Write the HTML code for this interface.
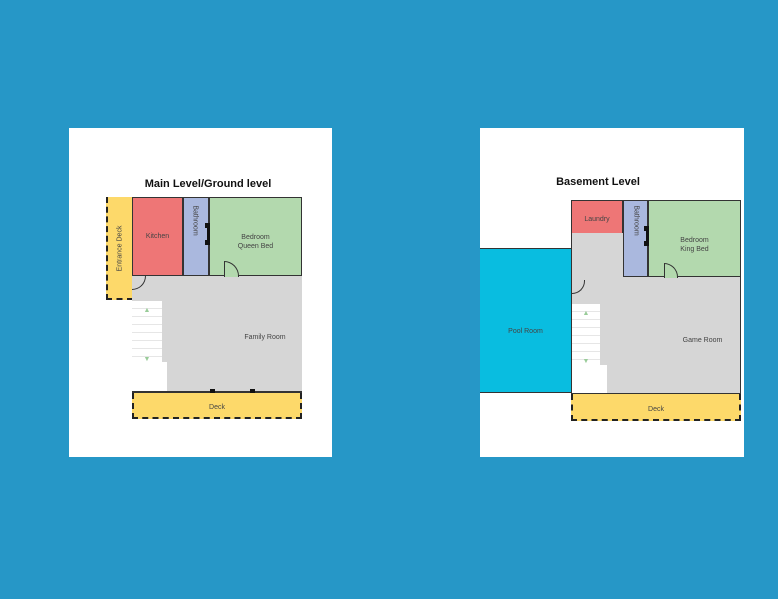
<!DOCTYPE html>
<html><head><style>
body{margin:0;width:778px;height:599px;background:#2697c7;position:relative;overflow:hidden;font-family:"Liberation Sans",sans-serif}
div{position:absolute;box-sizing:border-box}
.t{font-size:7px;color:#444;text-align:center;line-height:9px}
</style></head><body>
<div style="left:69px;top:128px;width:263px;height:329px;background:#fff"></div>
<div style="left:480px;top:128px;width:264px;height:329px;background:#fff"></div>

<!-- LEFT -->
<div style="left:69px;top:178px;width:278px;text-align:center;font-weight:bold;font-size:11px;color:#111">Main Level/Ground level</div>
<div style="left:106px;top:197px;width:27px;height:103px;background:#fdd96a;border-left:2px dashed #222;border-bottom:2px dashed #222"></div>
<div class="t" style="left:80px;top:244px;width:80px;transform:rotate(-90deg)">Entrance Deck</div>
<div style="left:132px;top:276px;width:170px;height:116px;background:#d6d6d6"></div>
<div style="left:132px;top:197px;width:51px;height:79px;background:#ee7676;border:1px solid #333"></div>
<div class="t" style="left:132px;top:232px;width:51px">Kitchen</div>
<div style="left:183px;top:197px;width:26px;height:79px;background:#aab8de;border:1px solid #333"></div>
<div class="t" style="left:170px;top:216px;width:50px;transform:rotate(90deg)">Bathroom</div>
<div style="left:209px;top:197px;width:93px;height:79px;background:#b3d9ae;border:1px solid #333"></div>
<div class="t" style="left:209px;top:233px;width:93px">Bedroom<br>Queen Bed</div>
<div style="left:207px;top:223px;width:3px;height:20px;background:#111"></div>
<div style="left:205px;top:223px;width:5px;height:5px;background:#111"></div>
<div style="left:205px;top:240px;width:5px;height:5px;background:#111"></div>
<div style="left:224px;top:261px;width:15px;height:16px;border:1px solid #333;border-radius:0 15px 0 0;border-bottom:none;background:#b3d9ae"></div>
<div style="left:132px;top:276px;width:14px;height:14px;border:1px solid #333;border-radius:0 0 14px 0;border-left:none;border-top:none"></div>
<div style="left:132px;top:301px;width:30px;height:91px;background:#fff;background-image:repeating-linear-gradient(#fff 0 7px,#e6e6e6 7px 8px)"></div>
<div style="left:132px;top:362px;width:35px;height:30px;background:#fff"></div>
<div class="t" style="left:132px;top:306px;width:30px;color:#9c9">▲</div>
<div class="t" style="left:132px;top:355px;width:30px;color:#9c9">▼</div>
<div class="t" style="left:200px;top:333px;width:130px">Family Room</div>
<div style="left:132px;top:391px;width:170px;height:2px;background:#333"></div>
<div style="left:210px;top:389px;width:5px;height:5px;background:#111"></div>
<div style="left:250px;top:389px;width:5px;height:5px;background:#111"></div>
<div style="left:132px;top:393px;width:170px;height:26px;background:#fdd96a;border:2px dashed #222;border-top:none"></div>
<div class="t" style="left:132px;top:403px;width:170px">Deck</div>

<!-- RIGHT -->
<div style="left:480px;top:176px;width:264px;text-align:center;font-weight:bold;font-size:11px;color:#111;padding-right:28px">Basement Level</div>
<div style="left:480px;top:248px;width:91px;height:145px;background:#09bde0;border-top:1px solid #333;border-bottom:1px solid #333"></div>
<div class="t" style="left:480px;top:327px;width:91px">Pool Room</div>
<div style="left:571px;top:200px;width:170px;height:194px;background:#d6d6d6;border:1px solid #333"></div>
<div style="left:571px;top:200px;width:52px;height:33px;background:#ee7676;border:1px solid #333;border-bottom:none"></div>
<div class="t" style="left:571px;top:215px;width:52px">Laundry</div>
<div style="left:623px;top:200px;width:25px;height:77px;background:#aab8de;border:1px solid #333"></div>
<div class="t" style="left:611px;top:216px;width:50px;transform:rotate(90deg)">Bathroom</div>
<div style="left:648px;top:200px;width:93px;height:77px;background:#b3d9ae;border:1px solid #333"></div>
<div class="t" style="left:648px;top:236px;width:93px">Bedroom<br>King Bed</div>
<div style="left:646px;top:226px;width:3px;height:19px;background:#111"></div>
<div style="left:644px;top:226px;width:5px;height:5px;background:#111"></div>
<div style="left:644px;top:241px;width:5px;height:5px;background:#111"></div>
<div style="left:664px;top:263px;width:14px;height:15px;border:1px solid #333;border-radius:0 14px 0 0;border-bottom:none;background:#b3d9ae"></div>
<div style="left:572px;top:280px;width:13px;height:14px;border:1px solid #333;border-radius:0 0 14px 0;border-left:none;border-top:none"></div>
<div style="left:572px;top:304px;width:28px;height:89px;background:#fff;background-image:repeating-linear-gradient(#fff 0 7px,#e6e6e6 7px 8px)"></div>
<div style="left:572px;top:365px;width:35px;height:28px;background:#fff"></div>
<div class="t" style="left:572px;top:309px;width:28px;color:#9c9">▲</div>
<div class="t" style="left:572px;top:357px;width:28px;color:#9c9">▼</div>
<div class="t" style="left:640px;top:336px;width:125px">Game Room</div>
<div style="left:571px;top:394px;width:170px;height:27px;background:#fdd96a;border:2px dashed #222;border-top:none"></div>
<div class="t" style="left:571px;top:405px;width:170px">Deck</div>
</body></html>
